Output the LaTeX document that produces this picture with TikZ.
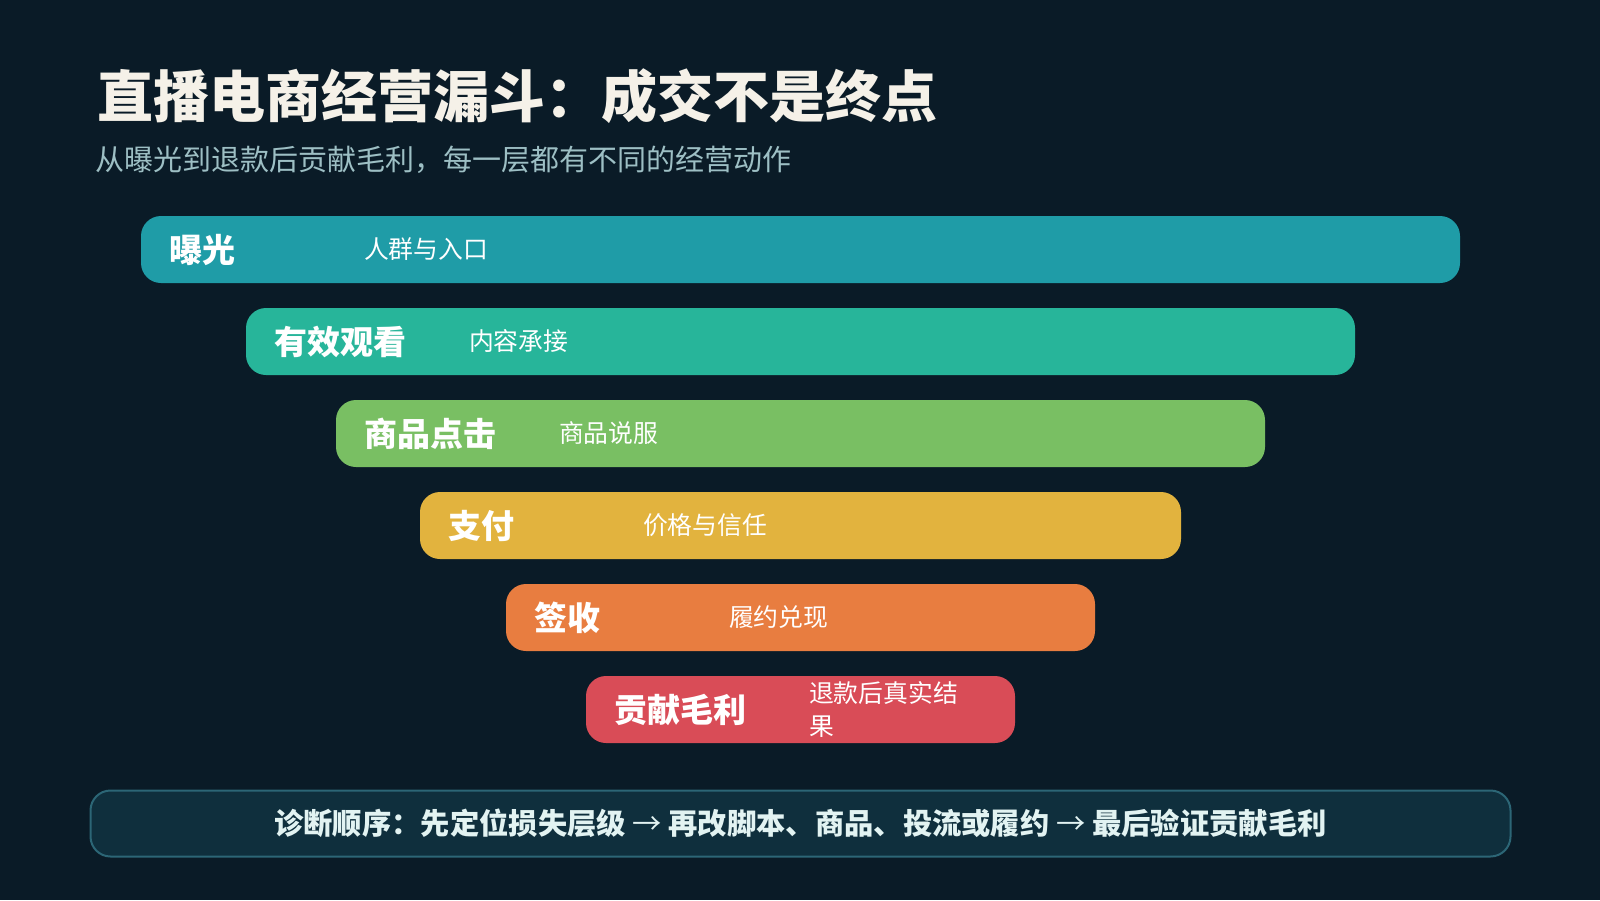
\documentclass[tikz,border=0pt]{standalone}
\usepackage{fontspec}
\setmainfont{Noto Sans CJK SC}
\definecolor{bgc}{HTML}{0A1B27}
\definecolor{titlec}{HTML}{F5F1E8}
\definecolor{subc}{HTML}{9DBFC4}
\definecolor{cA}{HTML}{1F9CA7}
\definecolor{cB}{HTML}{27B59A}
\definecolor{cC}{HTML}{79BF63}
\definecolor{cD}{HTML}{E2B33E}
\definecolor{cE}{HTML}{E87D40}
\definecolor{cF}{HTML}{D94C57}
\definecolor{notefill}{HTML}{0F2F3D}
\definecolor{noteline}{HTML}{2C6676}
\definecolor{notetext}{HTML}{E2F3F2}
\newcommand{\thinarrow}{{\mdseries →}}
\tikzset{
  barbox/.style={rounded corners=20pt, minimum height=67pt, inner sep=0pt, draw=none},
  stagelabel/.style={anchor=west, inner sep=0pt, text=white, font=\fontsize{33}{38}\selectfont\bfseries},
  stagedesc/.style={anchor=west, inner sep=0pt, text=white, font=\fontsize{24.8}{33}\selectfont, align=left},
}
\begin{document}
\begin{tikzpicture}[x=1pt,y=-1pt]
\fill[bgc] (0,0) rectangle (1600,900);
\useasboundingbox (0,0) rectangle (1600,900);

\node[anchor=west, inner sep=0pt, text=titlec, font=\fontsize{56}{60}\selectfont\bfseries] (title) at (97,96) {直播电商经营漏斗：成交不是终点};
\node[anchor=west, inner sep=0pt, text=subc, font=\fontsize{29}{32}\selectfont] (subtitle) at (95,160) {从曝光到退款后贡献毛利，每一层都有不同的经营动作};

\node[barbox, fill=cA, minimum width=1319pt] (b1) at (800.5,249.5) {};
\node[barbox, fill=cB, minimum width=1109pt] (b2) at (800.5,341.5) {};
\node[barbox, fill=cC, minimum width=929pt] (b3) at (800.5,433.5) {};
\node[barbox, fill=cD, minimum width=761pt] (b4) at (800.5,525.5) {};
\node[barbox, fill=cE, minimum width=589pt] (b5) at (800.5,617.5) {};
\node[barbox, fill=cF, minimum width=429pt] (b6) at (800.5,709.5) {};

\node[stagelabel] (l1) at ([xshift=28pt]b1.west) {曝光};
\node[stagelabel] (l2) at ([xshift=28pt]b2.west) {有效观看};
\node[stagelabel] (l3) at ([xshift=28pt]b3.west) {商品点击};
\node[stagelabel] (l4) at ([xshift=28pt]b4.west) {支付};
\node[stagelabel] (l5) at ([xshift=28pt]b5.west) {签收};
\node[stagelabel] (l6) at ([xshift=28pt]b6.west) {贡献毛利};

\node[stagedesc] (d1) at ([xshift=223pt]b1.west) {人群与入口};
\node[stagedesc] (d2) at ([xshift=223pt]b2.west) {内容承接};
\node[stagedesc] (d3) at ([xshift=223pt]b3.west) {商品说服};
\node[stagedesc] (d4) at ([xshift=223pt]b4.west) {价格与信任};
\node[stagedesc] (d5) at ([xshift=223pt]b5.west) {履约兑现};
\node[stagedesc] (d6) at ([xshift=223pt]b6.west) {退款后真实结\\果};

\node[rounded corners=20pt, fill=notefill, draw=noteline, line width=2pt, minimum width=1420pt, minimum height=66pt, inner sep=0pt] (note) at (800.5,823.5) {};
\node[inner sep=0pt, text=notetext, font=\fontsize{29.3}{32}\selectfont\bfseries] (notetxt) at (note.center) {诊断顺序：先定位损失层级 \thinarrow{} 再改脚本、商品、投流或履约 \thinarrow{} 最后验证贡献毛利};
\end{tikzpicture}
\end{document}
